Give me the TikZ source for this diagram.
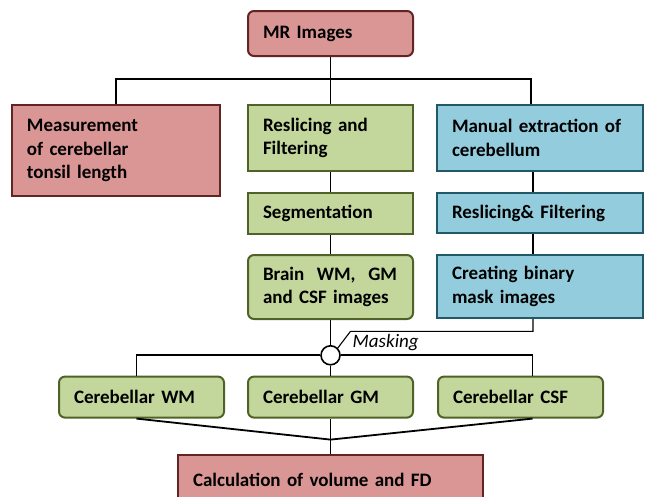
\documentclass[tikz,border=0pt]{standalone}
\usepackage{fontspec}
\setmainfont{Carlito}
\usetikzlibrary{positioning}
\definecolor{mrfill}{HTML}{D99694}
\definecolor{mrline}{HTML}{632523}
\definecolor{segfill}{HTML}{C3D69B}
\definecolor{segline}{HTML}{4F6228}
\definecolor{cbfill}{HTML}{93CDDD}
\definecolor{cbline}{HTML}{215968}
\tikzset{box/.style={rectangle,line width=2pt,align=left,inner xsep=15pt,inner ysep=0pt,font=\bfseries\fontsize{19}{23.3}\selectfont}}
\tikzset{redbox/.style={box,draw=mrline,fill=mrfill}}
\tikzset{greenbox/.style={box,draw=segline,fill=segfill,text width=135pt}}
\tikzset{bluebox/.style={box,draw=cbline,fill=cbfill,text width=176pt}}
\tikzset{link/.style={line width=1.8pt}}
\tikzset{maskline/.style={line width=1.1pt}}
\tikzset{joint/.style={circle,draw,fill=white,line width=1.6pt,minimum size=19pt,inner sep=0pt}}
\tikzset{masktext/.style={font=\itshape\fontsize{19}{23}\selectfont,inner sep=1pt}}

\begin{document}
\begin{tikzpicture}[x=1pt,y=1pt]
\useasboundingbox (0,0) rectangle (647,-496);
\begin{scope}[node distance=20pt]
	\node (mr) [redbox, text width=135pt, minimum height=45pt, rounded corners=6pt] at (330.5,-33.5) {MR Images};
	\node (resl) [greenbox, minimum height=66pt, below=47pt of mr] {Reslicing and\\Filtering};
	\node (meas) [redbox, text width=178pt, minimum height=91pt, left=26pt of resl.north west, anchor=north east] {Measurement\\of cerebellar\\tonsil length};
	\node (manual) [bluebox, minimum height=66pt, right=22pt of resl.north east, anchor=north west] {Manual extraction of\\cerebellum};
	\node (seg) [greenbox, minimum height=41pt, below=of resl] {Segmentation};
	\node (reslf) [bluebox, minimum height=40pt, below=of manual] {Reslicing\& Filtering};
	\node (brain) [greenbox, minimum height=64pt, rounded corners=6pt, below=19pt of seg] {Brain~ WM,~ GM\\and CSF images};
	\node (binmask) [bluebox, minimum height=63pt, below=of reslf] {Creating binary\\mask images};
	\node (mask) [joint, below=25pt of brain] {};
	\node (gm) [greenbox, minimum height=41pt, rounded corners=6pt, below=10pt of mask] {Cerebellar GM};
	\node (wm) [greenbox, minimum height=41pt, rounded corners=6pt, left=22pt of gm] {Cerebellar WM};
	\node (csf) [greenbox, minimum height=41pt, rounded corners=6pt, right=23pt of gm] {Cerebellar CSF};
	\node (calc) [redbox, text width=275pt, minimum height=50pt, below=35pt of gm] {Calculation of volume and FD};
\end{scope}
% top branches
\coordinate (bustop) at ([yshift=-22pt]mr.south);
\draw[link] (mr) -- (resl);
\draw[link] (meas.north) |- (bustop) -| ([xshift=-9pt]manual.north);
\draw[link] (resl) -- (seg);
\draw[link] (seg) -- (brain);
\draw[link] ([xshift=-7pt]manual.south) -- ([xshift=-7pt]reslf.north);
\draw[link] ([xshift=-7pt]reslf.south) -- ([xshift=-7pt]binmask.north);
% masking
\coordinate (bend) at ([xshift=20pt,yshift=24pt]mask.center);
\draw[maskline] ([xshift=-7pt]binmask.south) |- (bend) -- (mask.north east);
\node (masklbl) [masktext, anchor=north west] at ([xshift=1pt,yshift=-2pt]bend) {Masking};
\draw[link] (brain) -- (mask);
\draw[link] (mask) -- (gm);
\draw[link] (mask.west) -| ([xshift=-5pt]wm.north);
\draw[link] (mask.east) -| ([xshift=12pt]csf.north);
% merge into calculation
\coordinate (merge) at ([yshift=-21pt]gm.south);
\draw[link] ([xshift=-5pt]wm.south) -- (merge);
\draw[link] ([xshift=12pt]csf.south) -- (merge);
\draw[link] (gm) -- (calc);
\end{tikzpicture}
\end{document}
